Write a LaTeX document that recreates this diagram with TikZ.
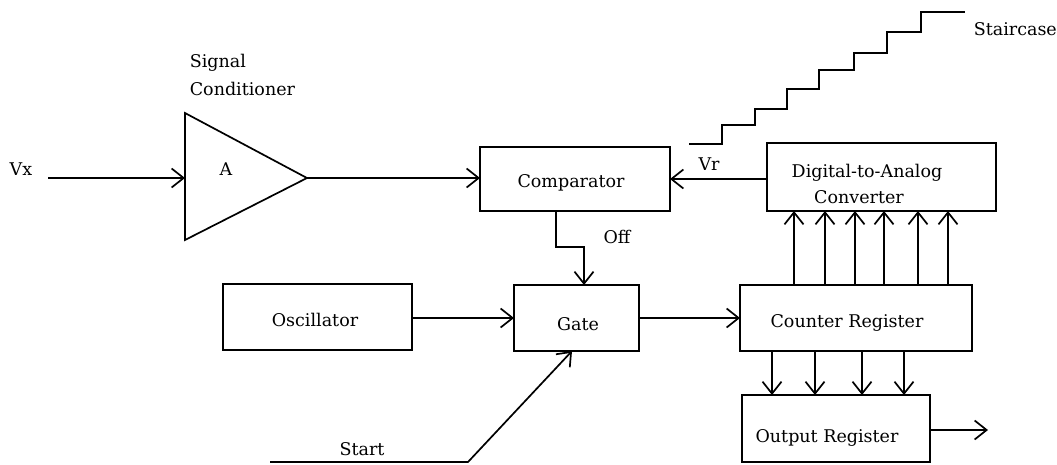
\documentclass[tikz,border=0pt]{standalone}
\usepackage{fontspec}
\setmainfont{DejaVu Serif}
\usetikzlibrary{arrows.meta}
\newcommand\lblfont{\fontsize{17.5}{20}\selectfont}
\begin{document}
\begin{tikzpicture}[x=1pt,y=-1pt,
  line width=1.7pt,
  arr/.style={-{Straight Barb[length=12pt,width=19pt,line width=1.7pt]}},
  box/.style={draw,rectangle,inner sep=0pt,outer sep=0pt},
  lbl/.style={inner sep=0pt,font=\lblfont,anchor=base}]
\useasboundingbox (0,0) rectangle (1057,464);

% boxes
\node[box,minimum width=190pt,minimum height=64pt] (cmp) at (575,179) {};
\node[box,minimum width=229pt,minimum height=68pt] (dac) at (881.5,177) {};
\node[box,minimum width=125pt,minimum height=66pt] (gate) at (576.5,318) {};
\node[box,minimum width=189pt,minimum height=66pt] (osc) at (317.5,317) {};
\node[box,minimum width=232pt,minimum height=66pt] (ctr) at (856,318) {};
\node[box,minimum width=188pt,minimum height=67pt] (out) at (836,428.5) {};

% amplifier
\coordinate (ampt) at (185,113);
\coordinate (ampb) at (185,240);
\coordinate (ampout) at (307,178);
\coordinate (ampin) at (185,178);
\draw (ampt) -- (ampout) -- (ampb) -- cycle;

% labels
\node[lbl] (lvx) at (21,175) {Vx};
\node[lbl] (la) at (226,175) {A};
\node[lbl,anchor=base west] (lsig) at (189,67) {Signal};
\node[lbl,anchor=base west] (lcond) at (189,95) {Conditioner};
\node[lbl] (lcmp) at (571,187) {Comparator};
\node[lbl] (lvr) at (709,170) {Vr};
\node[lbl] (loff) at (617,243) {Off};
\node[lbl] (ldac1) at (867,177) {Digital-to-Analog};
\node[lbl] (ldac2) at (859,203) {Converter};
\node[lbl,anchor=base west] (lstair) at (973,35) {Staircase};
\node[lbl] (losc) at (315,326) {Oscillator};
\node[lbl] (lgate) at (578,330) {Gate};
\node[lbl] (lctr) at (847,327) {Counter Register};
\node[lbl] (lout) at (827,442) {Output Register};
\node[lbl] (lstart) at (362,455) {Start};

% staircase
\draw (689,144) -- (722,144) -- (722,125) -- (755,125) -- (755,109) -- (787,109)
  -- (787,89) -- (819,89) -- (819,70) -- (854,70) -- (854,53) -- (887,53)
  -- (887,32) -- (921,32) -- (921,12) -- (965,12);

% connectors
\coordinate (vxs) at (48,178);
\draw[arr] (vxs) -- (ampin);
\draw[arr] (ampout) -- (cmp.west |- ampout);
\coordinate (vr) at (0,179);
\draw[arr] (dac.west |- vr) -- (cmp.east |- vr);
\coordinate (o1) at (556,247);
\coordinate (o2) at (584,247);
\draw[arr] (cmp.south -| o1) -- (o1) -- (o2) -- (gate.north -| o2);
\coordinate (a1) at (0,318);
\draw[arr] (osc.east |- a1) -- (gate.west |- a1);
\draw[arr] (gate.east |- a1) -- (ctr.west |- a1);
\foreach \x in {794,825,855,884,918,948}{
  \coordinate (u) at (\x,0);
  \draw[arr] (ctr.north -| u) -- (dac.south -| u);
}
\foreach \x in {772,815,862,904}{
  \coordinate (d) at (\x,0);
  \draw[arr] (ctr.south -| d) -- (out.north -| d);
}
\coordinate (oe) at (988,430);
\draw[arr] (out.east |- oe) -- (oe);
\coordinate (s0) at (270,462);
\coordinate (s1) at (468,462);
\coordinate (gs) at (572,0);
\draw[arr] (s0) -- (s1) -- (gate.south -| gs);
\end{tikzpicture}
\end{document}
